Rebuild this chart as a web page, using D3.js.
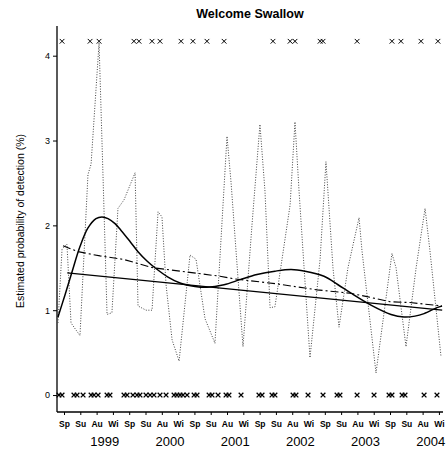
<!DOCTYPE html>
<html>
<head>
<meta charset="utf-8">
<script src="https://cdn.jsdelivr.net/npm/d3@7"></script>
<style>
  body { margin: 0; background: #fff; }
  text { font-family: "Liberation Sans", Arial, sans-serif; }
</style>
</head>
<body>
<svg id="chart"></svg>
<script>
// time is counted in quarters, 0 = spring 1999
var seasons = ["Sp", "Su", "Au", "Wi"];
var years = ["1999", "2000", "2001", "2002", "2003", "2004"];
var yTicks = [0, 1, 2, 3, 4];

// raw estimate (dotted)
var rawT = [-0.37, -0.12, 0.18, 0.43, 0.98, 1.47, 1.66, 2.15, 2.39, 2.64, 2.94, 3.31, 3.68, 4.36, 4.54, 5.03, 5.40, 5.77, 6.01, 6.26, 6.63, 7.06, 7.73, 8.10, 8.65, 9.26, 10.0, 10.25, 10.98, 11.53, 12.02, 12.33, 12.64, 12.94, 13.87, 14.17, 14.42, 15.09, 15.71, 16.07, 16.50, 16.87, 17.42, 18.10, 18.28, 19.14, 20.12, 20.37, 20.98, 21.60, 22.15, 22.45, 23.13];
var rawV = [0.85, 1.72, 1.78, 0.85, 0.7, 2.6, 2.72, 4.15, 2.6, 0.95, 0.97, 2.2, 2.3, 2.62, 1.05, 1.0, 1.0, 2.16, 2.1, 1.3, 0.65, 0.4, 1.65, 1.6, 0.9, 0.61, 3.05, 2.5, 0.57, 2.0, 3.19, 2.4, 1.03, 1.04, 2.24, 3.22, 2.4, 0.44, 1.6, 2.75, 1.5, 0.8, 1.5, 2.09, 1.7, 0.26, 1.67, 1.5, 0.57, 1.5, 2.2, 1.7, 0.45];

// smooth fit (solid curve)
var smoothT = [-0.37, 0.06, 0.49, 0.98, 1.47, 1.96, 2.33, 2.70, 3.13, 3.50, 4.05, 4.54, 5.09, 5.58, 6.38, 7.12, 8.04, 8.77, 9.82, 10.80, 11.84, 12.94, 13.93, 14.79, 15.95, 16.81, 17.61, 18.83, 20.06, 20.86, 21.53, 22.09, 22.88, 23.19];
var smoothV = [0.92, 1.18, 1.45, 1.75, 1.97, 2.08, 2.1, 2.08, 2.02, 1.94, 1.81, 1.69, 1.58, 1.5, 1.39, 1.32, 1.28, 1.27, 1.3, 1.36, 1.42, 1.46, 1.48, 1.46, 1.4, 1.3, 1.2, 1.06, 0.95, 0.92, 0.93, 0.96, 1.03, 1.05];

// second fit (dash-dot)
var dashT = [-0.06, 0.86, 2.21, 3.62, 5.46, 7.55, 9.57, 10.43, 13.07, 15.52, 17.55, 18.59, 20.0, 21.23, 22.7, 23.19];
var dashV = [1.76, 1.69, 1.64, 1.6, 1.5, 1.45, 1.4, 1.37, 1.31, 1.24, 1.2, 1.16, 1.1, 1.09, 1.06, 1.05];

// linear trend (straight solid)
var trendT = [0.2, 23.2];
var trendV = [1.44, 1.0];

// surveys with detection (top) and without (at 0)
var hitT = [-0.12, 1.60, 2.15, 4.29, 4.60, 5.40, 5.89, 7.18, 7.91, 8.77, 9.82, 12.82, 13.87, 14.17, 15.71, 15.89, 17.98, 20.12, 20.67, 21.90, 22.94];
var hitV = 4.17;
var missT = [-0.31, -0.12, 0.61, 0.80, 1.17, 1.66, 1.84, 2.09, 2.64, 2.82, 3.68, 3.87, 4.23, 4.48, 4.66, 5.03, 5.28, 5.52, 5.89, 6.26, 6.75, 6.93, 7.12, 7.30, 7.55, 7.98, 8.16, 8.90, 9.08, 9.45, 9.94, 10.12, 10.86, 11.96, 12.15, 12.76, 12.94, 14.05, 14.23, 14.97, 15.89, 16.75, 16.93, 17.98, 19.02, 19.94, 20.12, 20.74, 20.92, 22.09, 22.88];

var width = 448, height = 455;
var svg = d3.select("#chart").attr("width", width).attr("height", height);

var xScale = d3.scaleLinear().domain([-0.43, 23.25]).range([57, 443]);
var yScale = d3.scaleLinear().domain([-0.2, 4.35]).range([412, 26]);

function pts(ts, vs) {
  return ts.map((t, i) => [t, vs[i]]);
}
var line = d3.line()
  .x((d) => xScale(d[0]))
  .y((d) => yScale(d[1]));

// title
svg.append("text")
  .attr("x", 250)
  .attr("y", 18)
  .attr("text-anchor", "middle")
  .style("font-size", "12.5px")
  .style("font-weight", "bold")
  .text("Welcome Swallow");

// y label
svg.append("text")
  .attr("transform", "translate(24,221) rotate(-90)")
  .attr("text-anchor", "middle")
  .style("font-size", "10.5px")
  .text("Estimated probability of detection (%)");

// axes
var yAxis = d3.axisLeft(yScale).tickValues(yTicks).tickSize(4).tickPadding(3).tickFormat(d3.format("d"));
svg.append("g")
  .attr("transform", "translate(57,0)")
  .call(yAxis)
  .call((g) => g.select(".domain").attr("d", "M0,26V412").attr("stroke-width", 1.3))
  .call((g) => g.selectAll("text").style("font-size", "9px").style("font-family", "Liberation Sans, Arial"));

var qTicks = d3.range(24);
var xAxis = d3.axisBottom(xScale).tickValues(qTicks).tickSize(3).tickPadding(6)
  .tickFormat((d) => seasons[d % 4]);
svg.append("g")
  .attr("transform", "translate(0,412)")
  .call(xAxis)
  .call((g) => g.select(".domain").attr("d", "M57,0H443").attr("stroke-width", 1.3))
  .call((g) => g.selectAll("text")
    .style("font-size", "8.5px")
    .style("font-weight", "bold")
    .style("font-family", "Liberation Sans, Arial"));

svg.selectAll(".year")
  .data(years)
  .enter()
  .append("text")
  .attr("class", "year")
  .attr("x", (d, i) => xScale(i * 4 + 2.5))
  .attr("y", 446)
  .attr("text-anchor", "middle")
  .style("font-size", "13px")
  .text((d) => d);

// dotted raw series
svg.append("path")
  .attr("d", line(pts(rawT, rawV)))
  .attr("fill", "none")
  .attr("stroke", "#444")
  .attr("stroke-width", 1)
  .attr("stroke-dasharray", "1,1.6");

// linear trend
svg.append("path")
  .attr("d", line(pts(trendT, trendV)))
  .attr("fill", "none")
  .attr("stroke", "#000")
  .attr("stroke-width", 1.3);

// dash-dot fit
svg.append("path")
  .attr("d", line(pts(dashT, dashV)))
  .attr("fill", "none")
  .attr("stroke", "#000")
  .attr("stroke-width", 1.1)
  .attr("stroke-dasharray", "8,3,2,3");

// smooth curve
svg.append("path")
  .attr("d", line.curve(d3.curveCatmullRom)(pts(smoothT, smoothV)))
  .attr("fill", "none")
  .attr("stroke", "#000")
  .attr("stroke-width", 1.5);

// x markers
var cross = d3.symbol().type(d3.symbolX).size(16);
svg.selectAll(".hit")
  .data(hitT)
  .enter()
  .append("path")
  .attr("class", "hit")
  .attr("d", cross)
  .attr("transform", (d) => `translate(${xScale(d)},${yScale(hitV)})`)
  .attr("fill", "none")
  .attr("stroke", "#000")
  .attr("stroke-width", 1);
svg.selectAll(".miss")
  .data(missT)
  .enter()
  .append("path")
  .attr("class", "miss")
  .attr("d", cross)
  .attr("transform", (d) => `translate(${xScale(d)},${yScale(0)})`)
  .attr("fill", "none")
  .attr("stroke", "#000")
  .attr("stroke-width", 1.3);
</script>
</body>
</html>
